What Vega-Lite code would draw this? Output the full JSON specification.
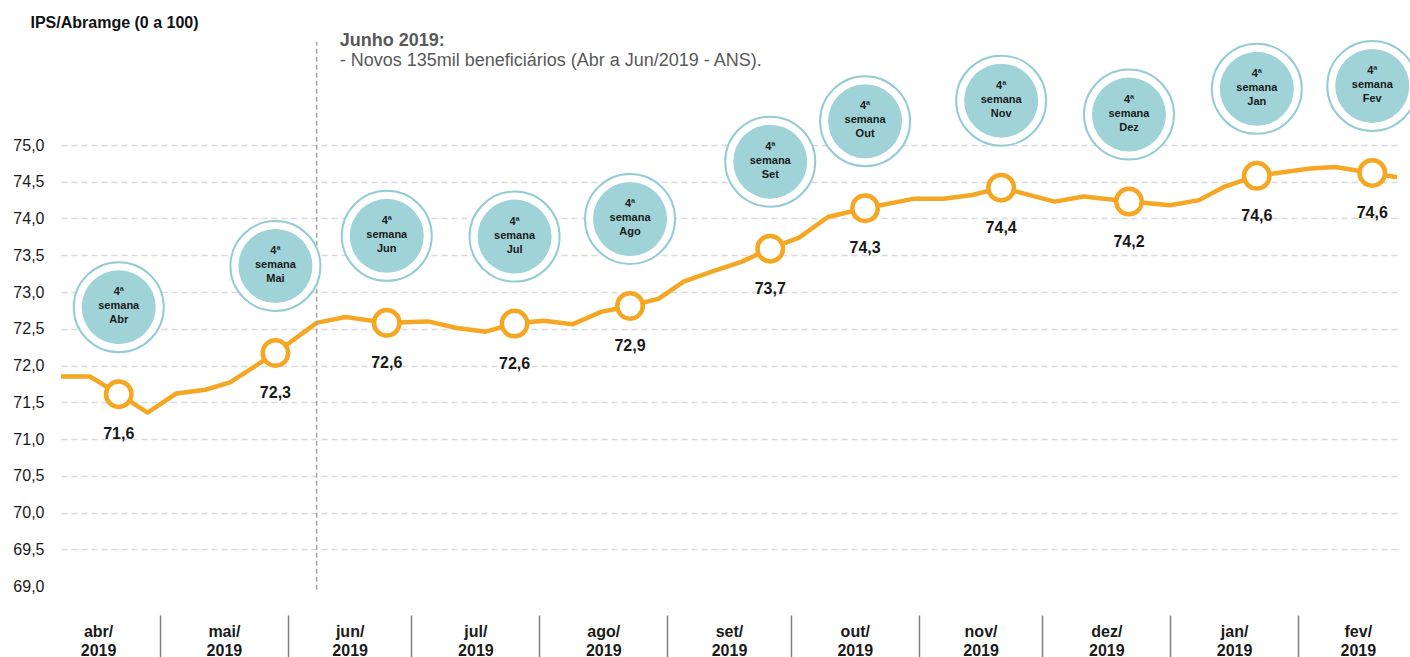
{
  "$schema": "https://vega.github.io/schema/vega-lite/v6.json",
  "width": 1336,
  "height": 441,
  "autosize": "none",
  "padding": {"left": 61, "top": 145, "right": 13, "bottom": 71},
  "background": "white",
  "config": {"view": {"stroke": null}, "font": "Liberation Sans"},
  "datasets": {
    "ips": [
      {"data": "2019-04-07", "ips": 71.85},
      {"data": "2019-04-14", "ips": 71.85},
      {"data": "2019-04-21", "ips": 71.61, "rotulo": "71,6", "bolha": "4ª\nsemana\nAbr"},
      {"data": "2019-04-28", "ips": 71.36},
      {"data": "2019-05-05", "ips": 71.62},
      {"data": "2019-05-12", "ips": 71.67},
      {"data": "2019-05-18", "ips": 71.77},
      {"data": "2019-05-29", "ips": 72.17, "rotulo": "72,3", "bolha": "4ª\nsemana\nMai"},
      {"data": "2019-06-08", "ips": 72.58},
      {"data": "2019-06-15", "ips": 72.66},
      {"data": "2019-06-25", "ips": 72.58, "rotulo": "72,6", "bolha": "4ª\nsemana\nJun"},
      {"data": "2019-07-05", "ips": 72.60},
      {"data": "2019-07-12", "ips": 72.51},
      {"data": "2019-07-19", "ips": 72.46},
      {"data": "2019-07-26", "ips": 72.57, "rotulo": "72,6", "bolha": "4ª\nsemana\nJul"},
      {"data": "2019-08-02", "ips": 72.61},
      {"data": "2019-08-09", "ips": 72.56},
      {"data": "2019-08-16", "ips": 72.73},
      {"data": "2019-08-23", "ips": 72.81, "rotulo": "72,9", "bolha": "4ª\nsemana\nAgo"},
      {"data": "2019-08-30", "ips": 72.91},
      {"data": "2019-09-05", "ips": 73.14},
      {"data": "2019-09-12", "ips": 73.28},
      {"data": "2019-09-19", "ips": 73.41},
      {"data": "2019-09-26", "ips": 73.59, "rotulo": "73,7", "bolha": "4ª\nsemana\nSet"},
      {"data": "2019-10-03", "ips": 73.74},
      {"data": "2019-10-10", "ips": 74.02},
      {"data": "2019-10-19", "ips": 74.14, "rotulo": "74,3", "bolha": "4ª\nsemana\nOut"},
      {"data": "2019-10-31", "ips": 74.27},
      {"data": "2019-11-07", "ips": 74.27},
      {"data": "2019-11-14", "ips": 74.32},
      {"data": "2019-11-21", "ips": 74.42, "rotulo": "74,4", "bolha": "4ª\nsemana\nNov"},
      {"data": "2019-12-04", "ips": 74.23},
      {"data": "2019-12-11", "ips": 74.30},
      {"data": "2019-12-22", "ips": 74.23, "rotulo": "74,2", "bolha": "4ª\nsemana\nDez"},
      {"data": "2020-01-01", "ips": 74.18},
      {"data": "2020-01-08", "ips": 74.25},
      {"data": "2020-01-14", "ips": 74.43},
      {"data": "2020-01-22", "ips": 74.58, "rotulo": "74,6", "bolha": "4ª\nsemana\nJan"},
      {"data": "2020-02-04", "ips": 74.68},
      {"data": "2020-02-10", "ips": 74.70},
      {"data": "2020-02-19", "ips": 74.62, "rotulo": "74,6", "bolha": "4ª\nsemana\nFev"},
      {"data": "2020-02-25", "ips": 74.56}
    ],
    "marco": [
      {"data": "2019-06-08", "base": 68.95, "topo": 76.4, "titulo": "Junho 2019:", "tituloY": 76.41, "nota": "- Novos 135mil beneficiários (Abr a Jun/2019 - ANS).", "notaY": 76.14}
    ]
  },
  "resolve": {"axis": {"x": "independent", "y": "independent"}},
  "layer": [
    {
      "data": {"name": "ips"},
      "mark": {"type": "line", "color": "#F5A623", "strokeWidth": 4.5, "strokeJoin": "round"},
      "encoding": {
        "x": {
          "field": "data", "type": "temporal",
          "scale": {"type": "utc", "domain": [{"year": 2019, "month": 4, "date": 7, "utc": true}, {"year": 2020, "month": 2, "date": 25, "utc": true}]},
          "axis": {
            "orient": "bottom",
            "values": [
              {"year": 2019, "month": 5, "date": 1, "utc": true},
              {"year": 2019, "month": 6, "date": 1, "utc": true},
              {"year": 2019, "month": 7, "date": 1, "utc": true},
              {"year": 2019, "month": 8, "date": 1, "utc": true},
              {"year": 2019, "month": 9, "date": 1, "utc": true},
              {"year": 2019, "month": 10, "date": 1, "utc": true},
              {"year": 2019, "month": 11, "date": 1, "utc": true},
              {"year": 2019, "month": 12, "date": 1, "utc": true},
              {"year": 2020, "month": 1, "date": 1, "utc": true},
              {"year": 2020, "month": 2, "date": 1, "utc": true}
            ],
            "labels": false, "domain": false, "grid": false, "ticks": true,
            "tickSize": 45, "tickColor": "#7f7f7f", "tickWidth": 1.5, "offset": 29, "title": null
          }
        },
        "y": {
          "field": "ips", "type": "quantitative",
          "scale": {"domain": [69, 75], "nice": false, "zero": false},
          "axis": {
            "orient": "left",
            "values": [69, 69.5, 70, 70.5, 71, 71.5, 72, 72.5, 73, 73.5, 74, 74.5, 75],
            "labelExpr": "replace(format(datum.value, '.1f'), '.', ',')",
            "labelFont": "Liberation Sans", "labelFontSize": 16, "labelColor": "#1a1a1a", "labelPadding": 17,
            "ticks": false, "domain": false,
            "grid": true, "gridColor": "#d9d9d9", "gridDash": [6, 4], "gridWidth": 1.5,
            "gridOpacity": {"condition": {"test": "datum.value < 69.25", "value": 0}, "value": 1},
            "title": "IPS/Abramge (0 a 100)", "titleAngle": 0, "titleAlign": "left", "titleBaseline": "middle",
            "titleX": -31, "titleY": -123, "titleFont": "Liberation Sans", "titleFontSize": 16,
            "titleFontWeight": "bold", "titleColor": "#111111"
          }
        }
      }
    },
    {
      "data": {"name": "marco"},
      "mark": {"type": "rule", "color": "#a6a6a6", "strokeWidth": 1.5, "strokeDash": [5, 3]},
      "encoding": {
        "x": {"field": "data", "type": "temporal", "axis": null},
        "y": {"field": "base", "type": "quantitative", "axis": null},
        "y2": {"field": "topo"}
      }
    },
    {
      "data": {"name": "marco"},
      "mark": {"type": "text", "align": "left", "baseline": "middle", "dx": 23, "fontSize": 18, "fontWeight": "bold", "color": "#595959"},
      "encoding": {
        "x": {"field": "data", "type": "temporal", "axis": null},
        "y": {"field": "tituloY", "type": "quantitative", "axis": null},
        "text": {"field": "titulo"}
      }
    },
    {
      "data": {"name": "marco"},
      "mark": {"type": "text", "align": "left", "baseline": "middle", "dx": 23, "fontSize": 18, "color": "#595959"},
      "encoding": {
        "x": {"field": "data", "type": "temporal", "axis": null},
        "y": {"field": "notaY", "type": "quantitative", "axis": null},
        "text": {"field": "nota"}
      }
    },
    {
      "data": {"name": "ips"},
      "transform": [{"filter": "isValid(datum.rotulo)"}],
      "mark": {"type": "point", "shape": "circle", "size": 8100, "fill": "white", "stroke": "#93CDD3", "strokeWidth": 2, "opacity": 1, "yOffset": -87},
      "encoding": {
        "x": {"field": "data", "type": "temporal", "axis": null},
        "y": {"field": "ips", "type": "quantitative", "axis": null}
      }
    },
    {
      "data": {"name": "ips"},
      "transform": [{"filter": "isValid(datum.rotulo)"}],
      "mark": {"type": "point", "shape": "circle", "size": 5476, "filled": true, "color": "#9FD3D8", "strokeWidth": 0, "opacity": 1, "yOffset": -87},
      "encoding": {
        "x": {"field": "data", "type": "temporal", "axis": null},
        "y": {"field": "ips", "type": "quantitative", "axis": null}
      }
    },
    {
      "data": {"name": "ips"},
      "transform": [{"filter": "isValid(datum.rotulo)"}],
      "mark": {"type": "text", "lineBreak": "\n", "fontSize": 11, "fontWeight": "bold", "lineHeight": 14, "color": "#1a1a1a", "baseline": "middle", "dy": -102},
      "encoding": {
        "x": {"field": "data", "type": "temporal", "axis": null},
        "y": {"field": "ips", "type": "quantitative", "axis": null},
        "text": {"field": "bolha"}
      }
    },
    {
      "data": {"name": "ips"},
      "transform": [{"filter": "isValid(datum.rotulo)"}],
      "mark": {"type": "point", "shape": "circle", "size": 650, "fill": "white", "stroke": "#F5A623", "strokeWidth": 4.5, "opacity": 1},
      "encoding": {
        "x": {
          "field": "data", "type": "temporal",
          "axis": {
            "orient": "bottom",
            "values": [
              {"year": 2019, "month": 4, "date": 16, "utc": true},
              {"year": 2019, "month": 5, "date": 16, "hours": 12, "utc": true},
              {"year": 2019, "month": 6, "date": 16, "utc": true},
              {"year": 2019, "month": 7, "date": 16, "hours": 12, "utc": true},
              {"year": 2019, "month": 8, "date": 16, "hours": 12, "utc": true},
              {"year": 2019, "month": 9, "date": 16, "utc": true},
              {"year": 2019, "month": 10, "date": 16, "hours": 12, "utc": true},
              {"year": 2019, "month": 11, "date": 16, "utc": true},
              {"year": 2019, "month": 12, "date": 16, "hours": 12, "utc": true},
              {"year": 2020, "month": 1, "date": 16, "hours": 12, "utc": true},
              {"year": 2020, "month": 2, "date": 15, "hours": 12, "utc": true}
            ],
            "ticks": false, "domain": false, "grid": false,
            "labelExpr": "[['jan','fev','mar','abr','mai','jun','jul','ago','set','out','nov','dez'][utcmonth(datum.value)] + '/', '2019']",
            "labelFont": "Liberation Sans", "labelFontSize": 16, "labelFontWeight": "bold", "labelColor": "#1a1a1a",
            "labelLineHeight": 19, "labelBaseline": "top", "labelPadding": 37,
            "labelOverlap": false, "labelFlush": false, "labelBound": false, "title": null
          }
        },
        "y": {"field": "ips", "type": "quantitative", "axis": null}
      }
    },
    {
      "data": {"name": "ips"},
      "transform": [{"filter": "isValid(datum.rotulo)"}],
      "mark": {"type": "text", "fontSize": 16, "fontWeight": "bold", "color": "#1a1a1a", "baseline": "middle", "dy": 40},
      "encoding": {
        "x": {"field": "data", "type": "temporal", "axis": null},
        "y": {"field": "ips", "type": "quantitative", "axis": null},
        "text": {"field": "rotulo"}
      }
    }
  ]
}
